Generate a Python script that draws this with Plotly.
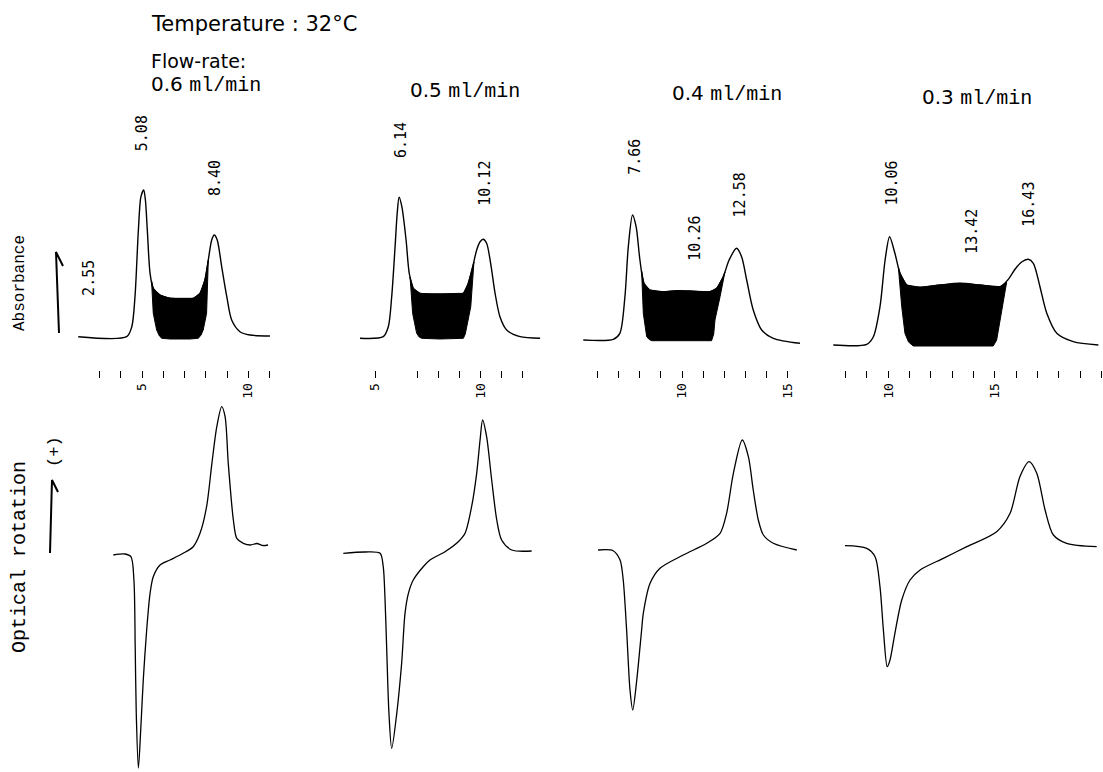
import plotly.graph_objects as go

W, H = 1103, 772

# ---------------- data (minutes, arbitrary detector units) ----------------
flow_rates = ["0.6", "0.5", "0.4", "0.3"]

# Absorbance traces
abs_t_1 = [2.00, 4.28, 4.52, 4.67, 4.83, 4.95, 5.08, 5.16, 5.25, 5.38, 5.53, 5.85, 6.32, 7.41, 7.73, 7.96, 8.12, 8.28, 8.40, 8.54, 8.75, 8.99, 9.22, 9.61, 10.08, 11.02]
abs_v_1 = [9.3, 9.3, 19.3, 49.3, 116, 149.3, 156, 146, 116, 72.7, 57.7, 51, 47.7, 47.7, 52.7, 66, 86, 106, 111, 106, 79.3, 49.3, 26, 14.3, 11, 10]
abs_t_2 = [4.29, 5.39, 5.63, 5.79, 5.95, 6.05, 6.14, 6.27, 6.47, 6.62, 6.81, 7.13, 7.60, 9.18, 9.41, 9.62, 9.81, 9.97, 10.12, 10.28, 10.47, 10.68, 10.91, 11.23, 11.86, 12.81]
abs_v_2 = [7.7, 9.3, 19.3, 49.3, 99.3, 132.7, 148.7, 139.3, 106, 72.7, 57.7, 52.7, 52, 52.7, 62.7, 79.3, 96, 104.3, 106.7, 102.7, 82.7, 52.7, 29.3, 16, 9.3, 7.7]
abs_t_3 = [5.33, 6.75, 7.06, 7.30, 7.46, 7.66, 7.83, 8.01, 8.20, 8.48, 9.11, 9.75, 10.38, 11.32, 11.64, 11.95, 12.23, 12.58, 12.82, 13.06, 13.37, 13.77, 14.32, 15.58]
abs_v_3 = [6, 6.7, 12.7, 49.3, 99.3, 131, 119.3, 86, 62.7, 56, 54.3, 55.3, 55, 54.3, 57.7, 69.3, 86, 97.7, 89.3, 66, 36, 16, 7.7, 2.7]
abs_t_4 = [7.42, 8.99, 9.30, 9.61, 9.85, 10.06, 10.31, 10.55, 10.86, 11.49, 12.42, 13.36, 14.30, 15.24, 15.60, 15.95, 16.25, 16.56, 16.80, 17.11, 17.43, 17.90, 18.67, 19.85]
abs_v_4 = [1, 1.7, 9.3, 39.3, 86, 109.3, 92.7, 72.7, 61, 58.7, 61, 62.7, 61, 59.3, 66, 77, 84, 86.7, 82.7, 59.3, 32.7, 12.7, 4.3, 1]

# lower edge of the black (interconversion) zone
fill_t_1 = [5.45, 5.53, 5.69, 5.82, 5.93, 6.32, 7.26, 7.65, 7.78, 7.88, 8.04, 8.12]
fill_v_1 = [65, 32.7, 16, 10, 7.7, 7, 7, 7.7, 11, 16, 32.7, 86]
fill_t_2 = [6.66, 6.78, 6.97, 7.09, 7.21, 8.07, 9.18, 9.27, 9.34, 9.53, 9.68]
fill_v_2 = [69, 32.7, 12.7, 9, 7.7, 7, 7.7, 12, 19.3, 39.3, 84]
fill_t_3 = [8.09, 8.17, 8.33, 8.45, 8.57, 11.40, 11.50, 11.56, 11.80, 12.03]
fill_v_3 = [75, 32.7, 9.3, 6.5, 5.3, 5.3, 12, 26, 49.3, 74]
fill_t_4 = [10.47, 10.63, 10.78, 10.95, 11.17, 14.92, 15.08, 15.16, 15.32, 15.55]
fill_v_4 = [79, 39.3, 12.7, 4, 0, 0, 6, 16, 39.3, 64]

# Optical rotation traces
rot_t_1 = [3.65, 4.20, 4.48, 4.62, 4.68, 4.73, 4.83, 4.94, 5.06, 5.22, 5.38, 5.53, 5.85, 6.32, 6.94, 7.41, 7.73, 8.04, 8.29, 8.52, 8.75, 8.91, 9.06, 9.30, 9.46, 9.77, 10.10, 10.40, 10.70, 10.93]
rot_v_1 = [0, 1, -1.7, -25, -91.7, -158.3, -213, -175, -125, -75, -38.3, -21.7, -10, -5, 1.7, 8.3, 21.7, 48.3, 91.7, 128.3, 148.3, 138.3, 91.7, 35, 16.7, 11.7, 10, 11.5, 9.5, 10]
rot_t_2 = [3.50, 4.53, 5.24, 5.39, 5.47, 5.55, 5.66, 5.79, 6.03, 6.26, 6.42, 6.58, 6.81, 7.28, 7.60, 8.31, 8.94, 9.26, 9.57, 9.81, 9.97, 10.09, 10.28, 10.52, 10.76, 10.99, 11.47, 12.41]
rot_v_2 = [1.7, 3, 1.7, -11.7, -41.7, -91.7, -158.3, -193.3, -158.3, -108.3, -58.3, -38.3, -25, -11.7, -5, 3.3, 13.3, 21.7, 48.3, 81.7, 115, 135, 118.3, 75, 35, 15, 5, 4]
rot_t_3 = [6.03, 6.74, 7.07, 7.22, 7.38, 7.54, 7.67, 7.86, 8.09, 8.17, 8.49, 8.96, 10.06, 11.17, 11.80, 12.11, 12.43, 12.85, 13.14, 13.37, 13.61, 13.85, 14.32, 15.43]
rot_v_3 = [5, 4.3, -5, -25, -75, -135, -155, -125, -75, -58.3, -28.3, -13.3, 0, 11.7, 21.7, 41.7, 81.7, 115, 98.3, 65, 35, 20, 11.7, 5]
rot_t_4 = [7.97, 8.99, 9.38, 9.61, 9.77, 9.95, 10.08, 10.31, 10.63, 11.02, 11.49, 12.58, 13.68, 15.08, 15.71, 16.17, 16.60, 16.96, 17.35, 17.74, 18.36, 19.77]
rot_v_4 = [9.3, 6.7, -1.7, -31.7, -75, -111.7, -105, -78.3, -45, -25, -15, -3.3, 8.3, 23.3, 41.7, 78.3, 93.3, 81.7, 45, 20, 11.7, 8.3]

# Printed retention times (label text, label position in min, label top level)
peak_text_1 = ["2.55", "5.08", "8.40"]
peak_pos_1 = [2.50, 5.01, 8.44]
peak_top_1 = [88, 233, 188]
peak_text_2 = ["6.14", "10.12"]
peak_pos_2 = [6.23, 10.20]
peak_top_2 = [226, 187.7]
peak_text_3 = ["7.66", "10.26", "12.58"]
peak_pos_3 = [7.78, 10.61, 12.74]
peak_top_3 = [209.3, 132.7, 176]
peak_text_4 = ["10.06", "13.42", "16.43"]
peak_pos_4 = [10.16, 13.91, 16.56]
peak_top_4 = [187.7, 139.3, 166]

# Time-axis tick marks and labels
tick_vals_1 = [3, 4, 5, 6, 7, 8, 9, 10, 11]
tick_vals_2 = [5, 7, 8, 9, 10, 11, 12]
tick_vals_3 = [6, 7, 8, 9, 10, 11, 12, 13, 14, 15]
tick_vals_4 = [8, 9, 10, 11, 12, 13, 14, 15, 16, 17, 18, 19, 20]
labelled_ticks = [5, 10, 15, 20]

# ---------------- layout geometry (pixels) ----------------
COL_PX = [(70, 285), (335, 570), (575, 820), (825, 1103)]
COL_SCALE = [(5, 142, 21.25), (5, 375, 21.14), (10, 682, 21.14), (10, 888.3, 21.33)]
TOP_PX = (100, 370)
BOT_PX = (395, 772)
TOP_REF = 346
BOT_REF = 555

abs_t = [abs_t_1, abs_t_2, abs_t_3, abs_t_4]
abs_v = [abs_v_1, abs_v_2, abs_v_3, abs_v_4]
fill_t = [fill_t_1, fill_t_2, fill_t_3, fill_t_4]
fill_v = [fill_v_1, fill_v_2, fill_v_3, fill_v_4]
rot_t = [rot_t_1, rot_t_2, rot_t_3, rot_t_4]
rot_v = [rot_v_1, rot_v_2, rot_v_3, rot_v_4]
peak_text = [peak_text_1, peak_text_2, peak_text_3, peak_text_4]
peak_pos = [peak_pos_1, peak_pos_2, peak_pos_3, peak_pos_4]
peak_top = [peak_top_1, peak_top_2, peak_top_3, peak_top_4]
tick_vals = [tick_vals_1, tick_vals_2, tick_vals_3, tick_vals_4]

MONO = "Liberation Mono"
PRINT = "DejaVu Sans Mono"
SANS = "DejaVu Sans"

fig = go.Figure()
layout = dict(
    width=W, height=H, margin=dict(l=0, r=0, t=0, b=0),
    paper_bgcolor="white", plot_bgcolor="white", showlegend=False,
    annotations=[], shapes=[],
)

def px_x(p):
    return p / W

def px_y(p):
    return 1 - p / H

for i in range(4):
    top = i + 1
    bot = i + 5
    tref, pref, ppm = COL_SCALE[i]
    d0, d1 = COL_PX[i]
    xr = [tref + (d0 - pref) / ppm, tref + (d1 - pref) / ppm]
    xdom = [px_x(d0), px_x(d1)]
    tn = "" if top == 1 else str(top)
    bn = str(bot)
    layout["xaxis" + tn] = dict(
        domain=xdom, range=xr, anchor="y" + tn, showgrid=False, zeroline=False,
        showline=False, ticks="outside", ticklen=7, tickwidth=1, tickcolor="black",
        tickvals=tick_vals[i],
        ticktext=[str(v) if v in labelled_ticks else "" for v in tick_vals[i]],
        tickangle=-90, tickfont=dict(family=PRINT, size=13, color="black"),
    )
    layout["yaxis" + tn] = dict(
        domain=[px_y(TOP_PX[1]), px_y(TOP_PX[0])],
        range=[TOP_REF - TOP_PX[1], TOP_REF - TOP_PX[0]],
        anchor="x" + tn, visible=False,
    )
    layout["xaxis" + bn] = dict(domain=xdom, range=xr, anchor="y" + bn, visible=False)
    layout["yaxis" + bn] = dict(
        domain=[px_y(BOT_PX[1]), px_y(BOT_PX[0])],
        range=[BOT_REF - BOT_PX[1], BOT_REF - BOT_PX[0]],
        anchor="x" + bn, visible=False,
    )

    # black interconversion zone: lower edge, then back along the curve
    ft, fv = fill_t[i], fill_v[i]
    lo, hi = ft[0], ft[-1]
    inner = [(t, v) for t, v in zip(abs_t[i], abs_v[i]) if lo < t < hi][::-1]
    poly_t = list(ft) + [p[0] for p in inner] + [ft[0]]
    poly_v = list(fv) + [p[1] for p in inner] + [fv[0]]
    fig.add_trace(go.Scatter(
        x=poly_t, y=poly_v, mode="lines", fill="toself", fillcolor="black",
        line=dict(color="black", width=1),
        xaxis="x" + tn, yaxis="y" + tn, hoverinfo="skip",
    ))
    fig.add_trace(go.Scatter(
        x=abs_t[i], y=abs_v[i], mode="lines",
        line=dict(color="black", width=1.4, shape="spline", smoothing=0.8),
        xaxis="x" + tn, yaxis="y" + tn,
    ))
    fig.add_trace(go.Scatter(
        x=rot_t[i], y=rot_v[i], mode="lines",
        line=dict(color="black", width=1.3, shape="spline", smoothing=0.8),
        xaxis="x" + bn, yaxis="y" + bn,
    ))
    for txt, pos, topv in zip(peak_text[i], peak_pos[i], peak_top[i]):
        layout["annotations"].append(dict(
            x=pos, y=topv, xref="x" + tn, yref="y" + tn, text=txt, showarrow=False,
            textangle=-90, xanchor="center", yanchor="top",
            font=dict(family=PRINT, size=15, color="black"),
        ))

# header texts
def paper_text(x, y, text, size, family, xanchor="left", yanchor="middle", angle=0):
    layout["annotations"].append(dict(
        x=px_x(x), y=px_y(y), xref="paper", yref="paper", text=text, showarrow=False,
        xanchor=xanchor, yanchor=yanchor, textangle=angle, borderpad=0,
        font=dict(family=family, size=size, color="black"),
    ))

paper_text(150, 24, "Temperature : 32°C", 21, SANS)
paper_text(150, 61, "Flow-rate:", 19, SANS)
flow_px = [(150, 85), (409, 91), (671, 94), (921, 97)]
for fr, (x, y) in zip(flow_rates, flow_px):
    paper_text(x, y, fr + f" <span style='font-family:{MONO}'>ml/min</span>", 20, SANS)

paper_text(20, 283, "Absorbance", 16, MONO, xanchor="center", angle=-90)
paper_text(19, 557, "Optical rotation", 20, MONO, xanchor="center", angle=-90)
paper_text(54, 452, "(+)", 17, MONO, xanchor="center", angle=-90)

def path(points):
    s = ""
    for k, (x, y) in enumerate(points):
        s += ("M" if k == 0 else "L") + f"{px_x(x):.5f},{px_y(y):.5f} "
    return s

layout["shapes"].append(dict(type="path", xref="paper", yref="paper",
                             path=path([(59, 333), (56, 252), (63, 266)]),
                             line=dict(color="black", width=2)))
layout["shapes"].append(dict(type="path", xref="paper", yref="paper",
                             path=path([(50, 553), (52, 480), (58, 492)]),
                             line=dict(color="black", width=2)))

fig.update_layout(**layout)
fig.write_html("out.html")
